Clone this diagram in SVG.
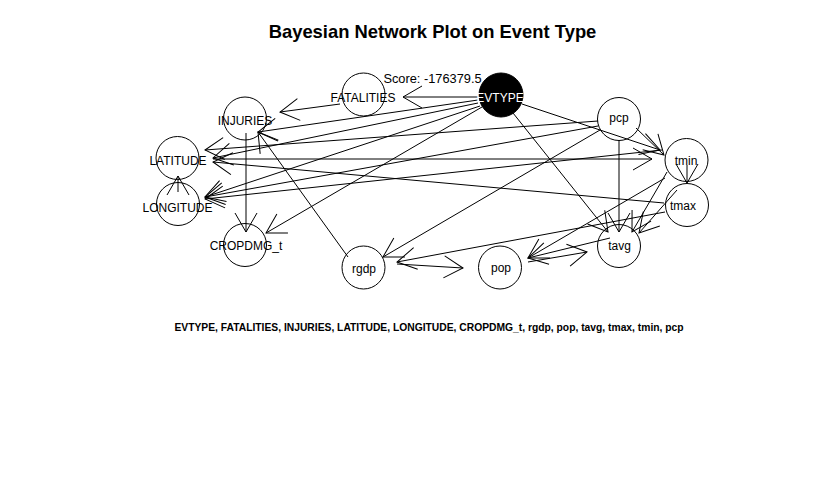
<svg xmlns="http://www.w3.org/2000/svg" width="820" height="480" viewBox="0 0 820 480">
<style>
text{font-family:"Liberation Sans",Arial,sans-serif;fill:#000}
.lbl{font-size:12px;text-anchor:middle}
.nd{fill:none;stroke:#000;stroke-width:1}
.e{fill:none;stroke:#000;stroke-width:1;marker-end:url(#ah)}
</style>
<defs>
<marker id="ah" markerUnits="userSpaceOnUse" markerWidth="30" markerHeight="30" viewBox="-25 -15 30 30" refX="0" refY="0" orient="auto" overflow="visible">
<path d="M-19,-11 L0,0 L-19,11" fill="none" stroke="#000" stroke-width="1"/>
</marker>
</defs>
<rect width="820" height="480" fill="#fff"/>
<text x="432.5" y="38" font-size="18.4" font-weight="bold" text-anchor="middle">Bayesian Network Plot on Event Type</text>
<g id="connectors">
<path class="e" d="M478,97 L403,97"/>
<path class="e" d="M340,104 L280,112"/>
<path class="e" d="M478,100 L258,132"/>
<path class="e" d="M348,257 L258,132"/>
<path class="e" d="M246,133 L246,232"/>
<path class="e" d="M482,107 L266,233"/>
<path class="e" d="M478,103 L213,158"/>
<path class="e" d="M480,106 L205,197"/>
<path class="e" d="M178,192 L178,176"/>
<path class="e" d="M598,121 L205,150"/>
<path class="e" d="M213,159 L652,159"/>
<path class="e" d="M664,203 L213,162"/>
<path class="e" d="M598,126 L205,197"/>
<path class="e" d="M662,150 L205,199"/>
<path class="e" d="M600,130 L383,257"/>
<path class="e" d="M397,264 L463,268"/>
<path class="e" d="M665,212 L397,262"/>
<path class="e" d="M665,178 L528,258"/>
<path class="e" d="M528,262 L587,252"/>
<path class="e" d="M619,140 L619,232"/>
<path class="e" d="M513,113 L608,232"/>
<path class="e" d="M522,104 L660,150"/>
<path class="e" d="M636,128 L664,155"/>
<path class="e" d="M687,165 L687,183"/>
<path class="e" d="M667,172 L632,232"/>
<path class="e" d="M677,190 L639,233"/>
<path class="e" d="M610,238 L528,258"/>
</g>
<g id="node-EVTYPE"><circle cx="501" cy="95" r="22" fill="#000" stroke="#000"/><text class="lbl" x="500" y="102" style="fill:#fff">EVTYPE</text></g>
<g id="node-FATALITIES"><circle class="nd" cx="363.5" cy="94.5" r="21.5"/><text class="lbl" x="363" y="102">FATALITIES</text></g>
<g id="node-INJURIES"><circle class="nd" cx="245" cy="118.5" r="21.5"/><text class="lbl" x="245" y="125">INJURIES</text></g>
<g id="node-LATITUDE"><circle class="nd" cx="177.5" cy="158" r="21.5"/><text class="lbl" x="178" y="165">LATITUDE</text></g>
<g id="node-LONGITUDE"><circle class="nd" cx="178" cy="204" r="21.5"/><text class="lbl" x="177.5" y="212">LONGITUDE</text></g>
<g id="node-CROPDMG_t"><circle class="nd" cx="245" cy="245" r="21.5"/><text class="lbl" x="246" y="250">CROPDMG_t</text></g>
<g id="node-rgdp"><circle class="nd" cx="363.5" cy="267.5" r="21.5"/><text class="lbl" x="364" y="273">rgdp</text></g>
<g id="node-pop"><circle class="nd" cx="500" cy="267.5" r="21.5"/><text class="lbl" x="501" y="272">pop</text></g>
<g id="node-tavg"><circle class="nd" cx="619" cy="246" r="21.5"/><text class="lbl" x="619.5" y="250">tavg</text></g>
<g id="node-tmax"><circle class="nd" cx="687" cy="205" r="21.5"/><text class="lbl" x="683" y="210">tmax</text></g>
<g id="node-tmin"><circle class="nd" cx="686.5" cy="160" r="21.5"/><text class="lbl" x="686" y="165">tmin</text></g>
<g id="node-pcp"><circle class="nd" cx="619" cy="119" r="21.5"/><text class="lbl" x="619" y="122">pcp</text></g>
<text x="432.5" y="82.5" font-size="12.8" text-anchor="middle">Score: -176379.5</text>
<text x="429" y="330.5" font-size="10.3" font-weight="bold" text-anchor="middle">EVTYPE, FATALITIES, INJURIES, LATITUDE, LONGITUDE, CROPDMG_t, rgdp, pop, tavg, tmax, tmin, pcp</text>
</svg>
